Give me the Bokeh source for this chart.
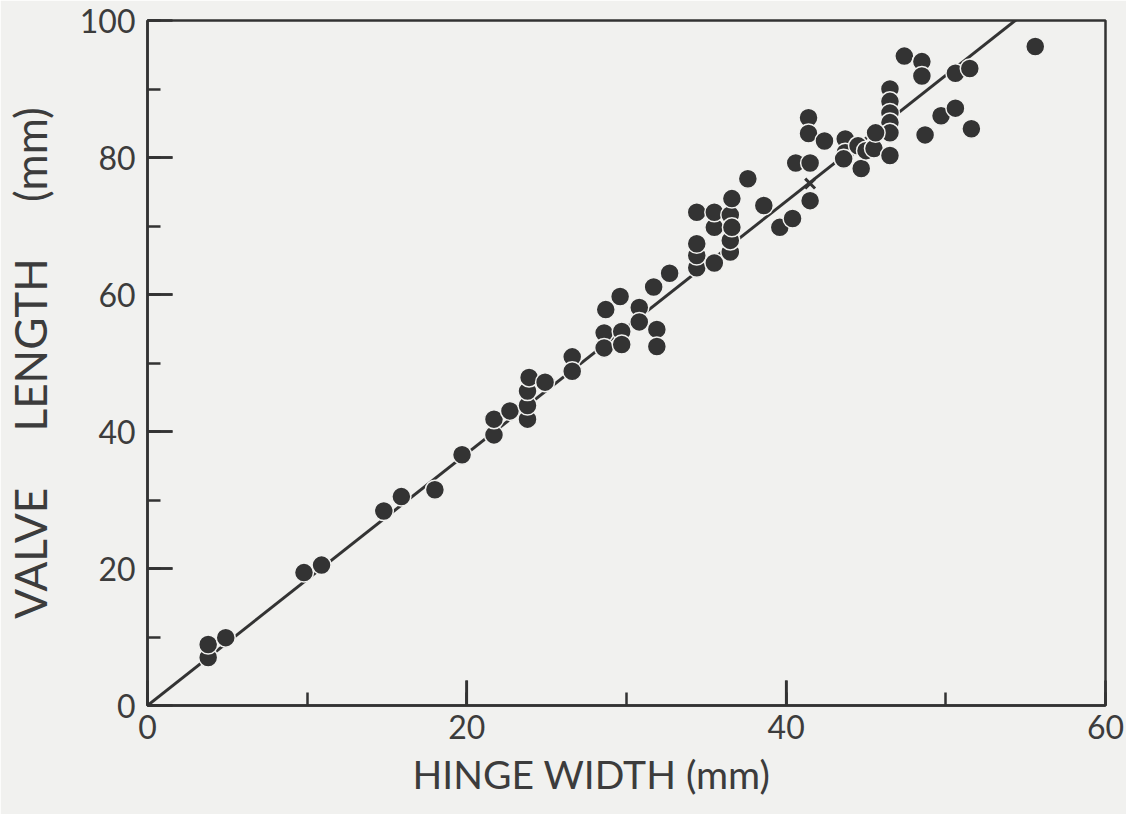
from bokeh.plotting import figure
from bokeh.models import Range1d, SingleIntervalTicker, Title
from bokeh.embed import file_html
from bokeh.resources import INLINE

# hinge width (mm) and valve length (mm)
hinge_width = [3.8, 3.8, 4.9, 9.8, 10.9, 14.8, 15.9, 18.0, 19.7, 21.7,
               21.7, 22.7, 23.8, 23.8, 23.8, 23.9, 24.9, 26.6, 26.6, 28.6,
               28.6, 28.7, 29.6, 29.7, 29.7, 30.8, 30.8, 31.9, 31.9, 31.7,
               32.7, 34.4, 34.4, 34.4, 34.4, 35.5, 35.5, 35.5, 36.5, 36.5,
               36.5, 36.6, 36.6, 37.6, 38.6, 39.6, 40.4, 40.6, 41.5, 41.5,
               41.4, 41.4, 42.4, 43.7, 43.7, 43.6, 44.7, 44.5, 45.0, 45.5,
               46.5, 46.5, 46.5, 46.5, 46.5, 46.5, 45.6, 47.4, 48.5, 48.5,
               48.7, 50.6, 51.5, 49.7, 50.6, 51.6, 55.6]
valve_length = [7.0, 8.9, 9.9, 19.4, 20.5, 28.4, 30.5, 31.5, 36.6, 39.5,
                41.8, 43.0, 41.8, 43.8, 45.9, 47.9, 47.2, 50.9, 48.8, 54.4,
                52.2, 57.8, 59.7, 54.6, 52.7, 58.1, 56.0, 54.9, 52.4, 61.1,
                63.1, 63.9, 65.7, 67.4, 72.0, 64.6, 69.8, 72.0, 66.2, 67.9,
                71.6, 69.8, 74.0, 76.9, 73.0, 69.8, 71.1, 79.2, 79.2, 73.7,
                85.8, 83.5, 82.4, 82.7, 80.7, 79.8, 78.4, 81.7, 81.0, 81.3,
                80.3, 90.0, 88.2, 86.5, 85.1, 83.6, 83.6, 94.8, 94.0, 91.9,
                83.3, 92.3, 93.0, 86.1, 87.2, 84.2, 96.2]

# single cross marker
cross_x = [41.5]
cross_y = [76.2]

# fitted line
fit_slope = 1.84
fit_intercept = 0.0
fit_x = [0.0, 58.0]

x_ticks = [0, 20, 40, 60]
y_ticks = [0, 20, 40, 60, 80, 100]

ink = "#333333"
text_ink = "#3c3c3c"
paper = "#f1f1ef"
font = "Lato"
gap = "\u00a0" * 5

W, H = 1126, 814
BL, BR, BT, BB = 147, 21, 20, 109
X0, X1 = x_ticks[0], x_ticks[-1]
Y0, Y1 = y_ticks[0], y_ticks[-1]
MAJOR_PX, MINOR_PX = 25, 13

p = figure(width=W, height=H, output_backend="svg", toolbar_location=None,
           x_range=Range1d(X0, X1), y_range=Range1d(Y0, Y1),
           min_border_left=BL, min_border_right=BR, min_border_top=BT,
           min_border_bottom=BB)
p.background_fill_color = paper
p.border_fill_color = paper
p.outline_line_color = ink
p.outline_line_width = 2.5
p.xgrid.visible = False
p.ygrid.visible = False

for ax, ticks in ((p.xaxis[0], x_ticks), (p.yaxis[0], y_ticks)):
    ax.ticker = SingleIntervalTicker(interval=ticks[1] - ticks[0], num_minor_ticks=2)
    ax.axis_line_color = ink
    ax.axis_line_width = 2.5
    ax.major_tick_line_color = ink
    ax.major_tick_line_width = 2.5
    ax.minor_tick_line_color = ink
    ax.minor_tick_line_width = 2.5
    ax.major_tick_in = MAJOR_PX
    ax.major_tick_out = 0
    ax.minor_tick_in = MINOR_PX
    ax.minor_tick_out = 0
    ax.major_label_text_font = font
    ax.major_label_text_font_size = "32px"
    ax.major_label_text_color = text_ink
p.xaxis[0].major_label_standoff = 9
p.yaxis[0].major_label_standoff = 12

p.yaxis[0].axis_label = "VALVE" + gap + "LENGTH" + gap + "(mm)"
p.yaxis[0].axis_label_text_font = font
p.yaxis[0].axis_label_text_font_size = "44px"
p.yaxis[0].axis_label_text_font_style = "normal"
p.yaxis[0].axis_label_text_color = text_ink
p.yaxis[0].axis_label_standoff = 21

p.add_layout(Title(text="HINGE WIDTH (mm)", align="left", offset=265,
                   text_font=font, text_font_size="39px",
                   text_font_style="normal", text_color=text_ink,
                   standoff=14), "below")

# long inward major ticks, drawn on the same scales as the axes
frame_w = W - BL - BR
frame_h = H - BT - BB
tick_dy = MAJOR_PX * (Y1 - Y0) / frame_h
tick_dx = MAJOR_PX * (X1 - X0) / frame_w
xm = x_ticks[1:-1]
ym = y_ticks[1:-1]
p.segment(x0=xm, y0=[Y0] * len(xm), x1=xm, y1=[Y0 + tick_dy] * len(xm),
          line_color=ink, line_width=2.5)
p.segment(x0=[X0] * len(ym), y0=ym, x1=[X0 + tick_dx] * len(ym), y1=ym,
          line_color=ink, line_width=2.5)

fit_y = [fit_intercept + fit_slope * v for v in fit_x]
p.line(fit_x, fit_y, line_color=ink, line_width=3)

p.scatter(hinge_width, valve_length, marker="circle", size=19,
          fill_color=ink, line_color=paper, line_width=1.5)
p.scatter(cross_x, cross_y, marker="x", size=14, line_color=ink, line_width=3)

open("out.html", "w").write(file_html(p, INLINE))
